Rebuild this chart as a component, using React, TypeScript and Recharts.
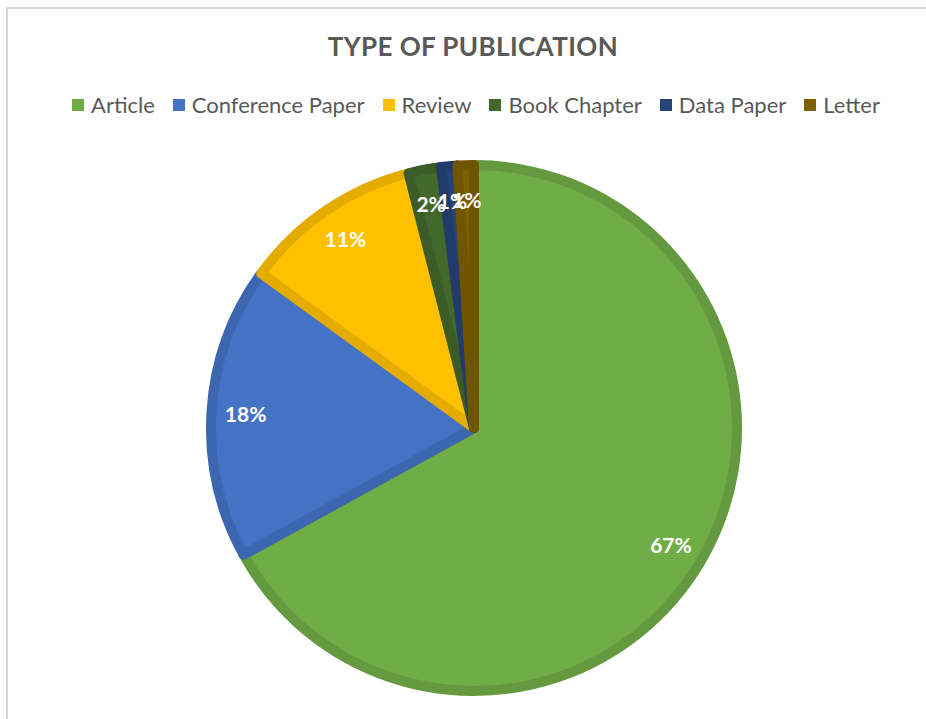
import { PieChart, Pie, Cell } from 'recharts';

const categories = ['Article', 'Conference Paper', 'Review', 'Book Chapter', 'Data Paper', 'Letter'];
const shares = [67, 18, 11, 2, 1, 1];
const fills = ['#70AD47', '#4472C4', '#FFC000', '#43682B', '#264478', '#7F6000'];
const strokes = ['#64993F', '#3D66B0', '#E5AC00', '#3B5C26', '#213C6A', '#705500'];

const chartData = categories.map((name, i) => ({ name, value: shares[i] }));

const FONT = 'Lato, "Open Sans", sans-serif';
const RADIAN = Math.PI / 180;

function renderLabel(props: any) {
  const { cx, cy, midAngle, outerRadius, percent } = props;
  const r = outerRadius * 0.87;
  const x = cx + r * Math.cos(-midAngle * RADIAN);
  const y = cy + r * Math.sin(-midAngle * RADIAN);
  return (
    <text
      x={x}
      y={y}
      fill="#FFFFFF"
      textAnchor="middle"
      dominantBaseline="central"
      fontFamily={FONT}
      fontWeight={700}
      fontSize={21}
    >
      {`${Math.round(percent * 100)}%`}
    </text>
  );
}

export default function App() {
  return (
    <div
      style={{
        position: 'absolute',
        left: 0,
        top: 0,
        width: 926,
        height: 719,
        background: '#fff',
        overflow: 'hidden',
        fontFamily: FONT,
      }}
    >
      <div
        style={{
          position: 'absolute',
          left: 6,
          top: 7,
          width: 940,
          height: 740,
          border: '2px solid #D9D9D9',
          boxSizing: 'border-box',
        }}
      />
      <div
        style={{
          position: 'absolute',
          left: 0,
          top: 30,
          width: 946,
          textAlign: 'center',
          fontSize: 26,
          fontWeight: 700,
          color: '#595959',
          letterSpacing: 0.4,
        }}
      >
        TYPE OF PUBLICATION
      </div>
      <div
        style={{
          position: 'absolute',
          left: 0,
          top: 91,
          width: 952,
          display: 'flex',
          justifyContent: 'center',
          gap: 18,
          fontSize: 22,
          color: '#595959',
        }}
      >
        {categories.map((c, i) => (
          <div key={c} style={{ display: 'flex', alignItems: 'center', gap: 7 }}>
            <span style={{ width: 12, height: 12, background: fills[i], display: 'inline-block' }} />
            {c}
          </div>
        ))}
      </div>
      <div style={{ position: 'absolute', left: 0, top: 0 }}>
        <PieChart width={926} height={719} margin={{ top: 0, right: 0, bottom: 0, left: 0 }}>
          <Pie
            data={chartData}
            dataKey="value"
            cx={474}
            cy={428}
            outerRadius={263}
            startAngle={90}
            endAngle={-270}
            strokeWidth={10}
            strokeLinejoin="round"
            label={renderLabel}
            labelLine={false}
            isAnimationActive={false}
          >
            {chartData.map((_, i) => (
              <Cell key={i} fill={fills[i]} stroke={strokes[i]} />
            ))}
          </Pie>
        </PieChart>
      </div>
    </div>
  );
}
